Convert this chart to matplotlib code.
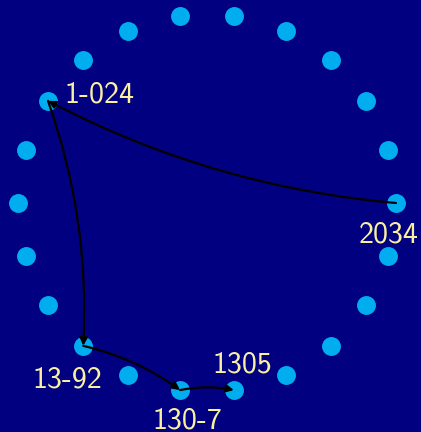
import numpy as np
import matplotlib
matplotlib.use('Agg')
import matplotlib.pyplot as plt
from matplotlib.patches import FancyArrowPatch

# 22 nodes on a ring, only a few carry a label
n_nodes = 22
labels = {0: '2034', 9: '1-024', 14: '13-92', 16: '130-7', 17: '1305'}
label_offsets = {0: (-7, -32), 9: (16, 6), 14: (-16, -34), 16: (7, -31), 17: (8, 25)}
label_ha = {0: 'center', 9: 'left', 14: 'center', 16: 'center', 17: 'center'}
edges = [(0, 9), (9, 14), (14, 16), (16, 17)]

bg = '#000080'
node_col = '#00aeef'
text_col = '#faf0a0'

ang = 2 * np.pi * np.arange(n_nodes) / n_nodes
px = np.cos(ang)
py = np.sin(ang)

fig = plt.figure(figsize=(4.21, 4.32), dpi=100)
fig.patch.set_facecolor(bg)
ax = fig.add_axes([0, 0, 1, 1])
ax.set_facecolor(bg)
ax.set_xlim(-207 / 189, 214 / 189)
ax.set_ylim(-229 / 189, 203 / 189)
ax.axis('off')

ax.scatter(px, py, s=185, color=node_col, zorder=2, linewidths=0)

for a, b in edges:
    arr = FancyArrowPatch((px[a], py[a]), (px[b], py[b]),
                          connectionstyle='arc3,rad=-0.1',
                          arrowstyle='-|>', mutation_scale=11,
                          color='black', lw=1.6, shrinkA=0, shrinkB=0,
                          zorder=3)
    ax.add_patch(arr)

for k, name in labels.items():
    ax.annotate(name, xy=(px[k], py[k]), xytext=label_offsets[k],
                textcoords='offset pixels', ha=label_ha[k], va='center',
                color=text_col, fontsize=21.5, family='cmss10', zorder=4)

fig.savefig('out.png', dpi=100, facecolor=bg)
